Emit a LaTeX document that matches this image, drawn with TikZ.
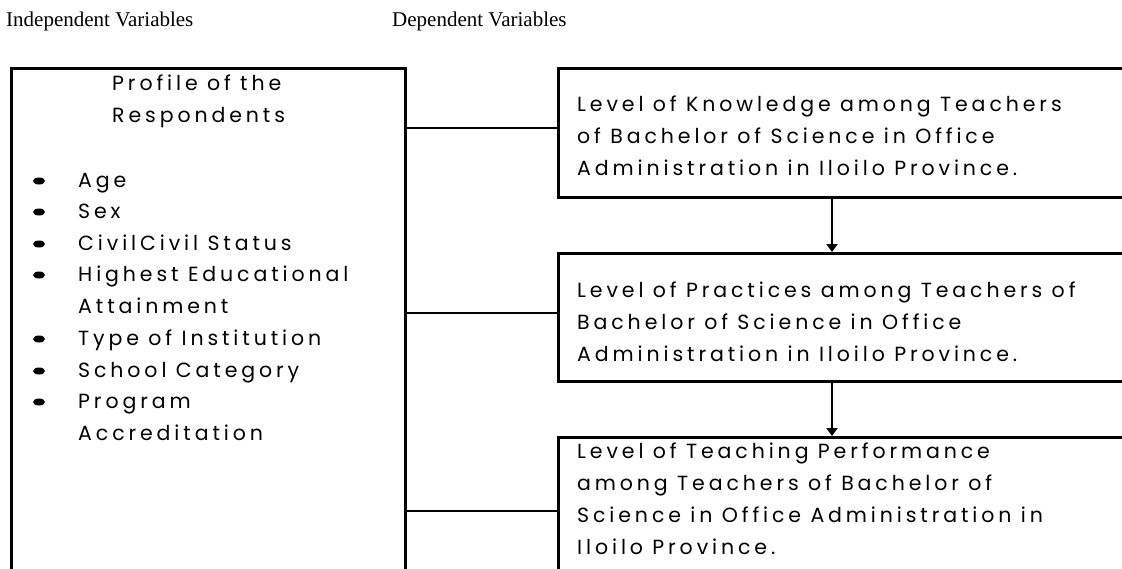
\documentclass[tikz,border=0pt]{standalone}
\usepackage{fontspec}
\setmainfont{Liberation Serif}
\newfontfamily\gothic[LetterSpace=19]{Poppins}
\usetikzlibrary{arrows.meta,shapes.geometric}

\tikzset{
  panel/.style={draw=black, line width=2.8pt, fill=white, anchor=north west,
    inner sep=0pt, minimum width=#1},
  link/.style={draw=black, line width=1.8pt},
  flow/.style={draw=black, line width=2.6pt, -{Triangle[length=8pt,width=11pt]}},
  txt/.style={font=\gothic\fontsize{20.5}{24}\selectfont, anchor=base west, inner sep=0pt},
  head/.style={font=\fontsize{21}{25}\selectfont, anchor=base west, inner sep=0pt},
  dot/.style={ellipse, fill=black, inner sep=0pt, minimum width=12pt, minimum height=7pt},
}

\begin{document}
\begin{tikzpicture}[x=1pt, y=-1pt]
\useasboundingbox (0,0) rectangle (1122,568);

% column headings
\node[head] (hi) at (6,26) {Independent Variables};
\node[head] (hd) at (392,26) {Dependent Variables};

% independent variables box (runs past the lower edge)
\node[panel=394pt, minimum height=530pt] (prof) at (10,67) {};

% dependent variables boxes (run past the right edge)
\node[panel=590pt, minimum height=129pt] (know) at (557,67) {};
\node[panel=590pt, minimum height=128pt] (prac) at (557,252) {};
\node[panel=590pt, minimum height=160pt] (perf) at (557,436) {};

% links from the profile box
\coordinate (l1) at (404,128);
\coordinate (l2) at (404,313);
\coordinate (l3) at (404,511);
\draw[link] (l1) -- (l1 -| know.west);
\draw[link] (l2) -- (l2 -| prac.west);
\draw[link] (l3) -- (l3 -| perf.west);

% arrows between the dependent variables
\coordinate (a1) at (832,196);
\coordinate (a2) at (832,380);
\draw[flow] (a1) -- (a1 |- prac.north);
\draw[flow] (a2) -- (a2 |- perf.north);

% profile text
\node[txt] (p1) at (112,90) {Profile of the};
\node[txt] (p2) at (112,122) {Respondents};
\node[txt] (v1) at (78,187) {Age};
\node[txt] (v2) at (78,218) {Sex};
\node[txt] (v3) at (78,250) {CivilCivil Status};
\node[txt] (v4) at (78,281) {Highest Educational};
\node[txt] (v4b) at (78,313) {Attainment};
\node[txt] (v5) at (78,345) {Type of Institution};
\node[txt] (v6) at (78,377) {School Category};
\node[txt] (v7) at (78,408) {Program};
\node[txt] (v7b) at (78,440) {Accreditation};
\foreach \v in {v1,v2,v3,v4,v5,v6,v7}
  \node[dot] (b\v) at ([yshift=6pt]\v.base -| 39,0) {};

% knowledge text
\node[txt] (k1) at (577,111) {Level of Knowledge among Teachers};
\node[txt] (k2) at (577,143) {of Bachelor of Science in Office};
\node[txt] (k3) at (577,175) {Administration in Iloilo Province.};

% practices text
\node[txt] (r1) at (577,297) {Level of Practices among Teachers of};
\node[txt] (r2) at (577,329) {Bachelor of Science in Office};
\node[txt] (r3) at (577,361) {Administration in Iloilo Province.};

% teaching performance text
\node[txt] (t1) at (577,458) {Level of Teaching Performance};
\node[txt] (t2) at (577,490) {among Teachers of Bachelor of};
\node[txt] (t3) at (577,522) {Science in Office Administration in};
\node[txt] (t4) at (577,554) {Iloilo Province.};
\end{tikzpicture}
\end{document}
